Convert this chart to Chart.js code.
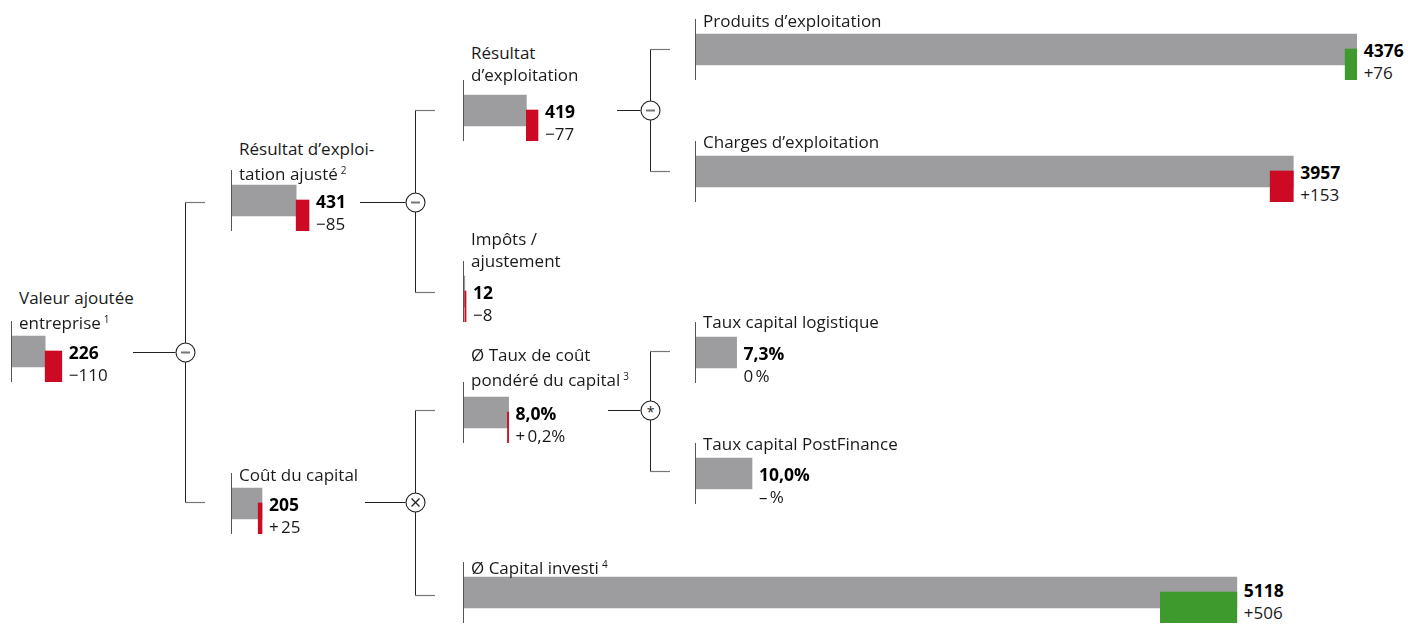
<!DOCTYPE html>
<html lang="fr">
<head>
<meta charset="utf-8">
<script src="https://cdn.jsdelivr.net/npm/chart.js@4.4.1/dist/chart.umd.min.js"></script>
<style>
  html, body { margin: 0; padding: 0; background: #ffffff; }
  #wrap { position: relative; width: 1408px; height: 625px; overflow: hidden; font-family: "Open Sans", "Noto Sans", sans-serif; color: #1a1a1a; }
  #wrap svg { position: absolute; left: 0; top: 0; }
  .node { position: absolute; }
  .txt { position: absolute; white-space: nowrap; }
  .lbl { font-size: 17px; line-height: 17px; }
  .val { font-size: 17.5px; line-height: 17.5px; font-weight: 700; color: #000; }
  .chg { font-size: 17px; line-height: 17px; }
  sup { font-size: 10px; vertical-align: 6px; margin-left: 3px; }
</style>
</head>
<body>
<div id="wrap"><svg id="lines" width="1408" height="625"></svg></div>
<script>
// ---------------- data ----------------
const categories = [
  "Valeur ajoutée entreprise", "Résultat d’exploitation ajusté", "Résultat d’exploitation",
  "Produits d’exploitation", "Charges d’exploitation", "Impôts / ajustement", "Coût du capital",
  "Ø Taux de coût pondéré du capital", "Taux capital logistique", "Taux capital PostFinance",
  "Ø Capital investi"
];
const labelLines = [
  ["Valeur ajoutée", "entreprise"], ["Résultat d’exploi-", "tation ajusté"], ["Résultat", "d’exploitation"],
  ["Produits d’exploitation"], ["Charges d’exploitation"], ["Impôts /", "ajustement"], ["Coût du capital"],
  ["Ø Taux de coût", "pondéré du capital"], ["Taux capital logistique"], ["Taux capital PostFinance"],
  ["Ø Capital investi"]
];
const footnotes = ["1", "2", "", "", "", "", "", "3", "", "", "4"];
const values  = [226, 431, 419, 4376, 3957, 12, 205, 8.0, 7.3, 10.0, 5118];
const changes = [-110, -85, -77, 76, 153, -8, 25, 0.2, 0, null, 506];
const units   = ["chf", "chf", "chf", "chf", "chf", "chf", "chf", "pct", "pct", "pct", "chf"];
const valueTexts  = ["226", "431", "419", "4376", "3957", "12", "205", "8,0%", "7,3%", "10,0%", "5118"];
const changeTexts = ["−110", "−85", "−77", "+76", "+153", "−8", "+\u202F25", "+\u202F0,2%", "0\u202F%", "–\u202F%", "+506"];
const favourable  = [false, false, false, true, false, false, false, false, null, null, true];

// ---------------- layout & style ----------------
const PX_PER_UNIT = { chf: 0.1512, pct: 5.7 };
const GRAY = "#9d9d9f", RED = "#cc0a23", GREEN = "#3e9a2c", AXIS = "#555555";
const NODE_H = 61, BAR_T = 31, ROW_GAP = 15;
const layout = [
  { x: 11,  top: 321, labelBase: 326 },
  { x: 231, top: 170, labelBase: 177 },
  { x: 463, top: 80,  labelBase: 81 },
  { x: 695, top: 19,  labelBase: 27 },
  { x: 695, top: 141, labelBase: 148 },
  { x: 463, top: 261, labelBase: 267 },
  { x: 231, top: 473, labelBase: 481 },
  { x: 463, top: 382, labelBase: 383 },
  { x: 695, top: 322, labelBase: 328 },
  { x: 695, top: 443, labelBase: 450 },
  { x: 463, top: 562, labelBase: 571, txtDy: -3 }
];
const connectors = [
  { x1: 133, y: 352, cx: 185, op: "minus", ys: [202, 502] },
  { x1: 360, y: 202, cx: 415, op: "minus", ys: [110, 292] },
  { x1: 617, y: 110, cx: 650, op: "minus", ys: [49, 171] },
  { x1: 365, y: 502, cx: 415, op: "times", ys: [410, 595] },
  { x1: 608, y: 410, cx: 650, op: "star",  ys: [351, 471] }
];

const wrap = document.getElementById("wrap");
function addText(cls, text, left, baseline, size, sup) {
  const d = document.createElement("div");
  d.className = "txt " + cls;
  d.textContent = text;
  if (sup) { const s = document.createElement("sup"); s.textContent = sup; d.appendChild(s); }
  d.style.left = left + "px";
  d.style.top = (baseline - 0.888 * size) + "px";
  wrap.appendChild(d);
  return d;
}

const axisLine = {
  id: "axisLine",
  afterDatasetsDraw(chart) {
    const { ctx, chartArea } = chart;
    const x = Math.round(chart.scales.x.getPixelForValue(0)) + 0.5;
    ctx.save();
    ctx.strokeStyle = AXIS; ctx.lineWidth = 1;
    ctx.beginPath(); ctx.moveTo(x, chartArea.top); ctx.lineTo(x, chartArea.bottom); ctx.stroke();
    ctx.restore();
  }
};

categories.forEach((name, i) => {
  const L = layout[i];
  const ppu = PX_PER_UNIT[units[i]];
  const v = values[i];
  const c = changes[i];
  const prev = c === null ? v : v - c;
  const extent = Math.max(v, prev);
  const W = Math.ceil(extent * ppu) + 2;

  const box = document.createElement("div");
  box.className = "node";
  box.style.left = L.x + "px"; box.style.top = L.top + "px";
  box.style.width = W + "px"; box.style.height = NODE_H + "px";
  const cv = document.createElement("canvas");
  cv.width = W; cv.height = NODE_H;
  cv.style.width = W + "px"; cv.style.height = NODE_H + "px";
  box.appendChild(cv);
  wrap.appendChild(box);

  // y value 0 = grey bar row (centre at mid-height), y value 1 = change bar row, ROW_GAP px lower
  const half = NODE_H / 2 / ROW_GAP;
  const changeColor = favourable[i] === null ? "rgba(0,0,0,0)" : (favourable[i] ? GREEN : RED);
  const chart = new Chart(cv, {
    type: "bar",
    data: {
      datasets: [{
        data: [
          { x: [0, v], y: 0 },
          { x: [Math.min(v, prev), Math.max(v, prev)], y: 1 }
        ],
        backgroundColor: [GRAY, changeColor],
        borderWidth: 0,
        barThickness: BAR_T,
        grouped: false
      }]
    },
    options: {
      indexAxis: "y",
      responsive: false,
      animation: false,
      events: [],
      devicePixelRatio: 1,
      layout: { padding: 0 },
      plugins: { legend: { display: false }, tooltip: { enabled: false } },
      scales: {
        x: { type: "linear", display: false, min: 0, max: W / ppu },
        y: { type: "linear", display: false, offset: false, reverse: true,
             min: -half, max: half }
      }
    },
    plugins: [axisLine]
  });

  // labels
  const lines = labelLines[i];
  lines.forEach((t, k) => {
    const base = L.labelBase - (lines.length - 1 - k) * 22;
    const sup = (k === lines.length - 1 && footnotes[i]) ? footnotes[i] : null;
    addText("lbl", t, L.x + 8, base, 17, sup);
  });
  const tx = L.x + chart.scales.x.getPixelForValue(extent) + 7;
  const dy = L.txtDy || 0;
  addText("val", valueTexts[i], tx, L.top + 39 + dy, 17.5);
  addText("chg", changeTexts[i], tx, L.top + 60 + dy, 17);
});

// connectors
const svg = document.getElementById("lines");
const NS = "http://www.w3.org/2000/svg";
function el(tag, attrs) { const e = document.createElementNS(NS, tag); for (const k in attrs) e.setAttribute(k, attrs[k]); svg.appendChild(e); return e; }
const R = 9.5;
connectors.forEach(cn => {
  el("line", { x1: cn.x1, y1: cn.y + 0.5, x2: cn.cx - R, y2: cn.y + 0.5, stroke: "#222", "stroke-width": 1 });
  el("line", { x1: cn.cx + 0.5, y1: cn.ys[0], x2: cn.cx + 0.5, y2: cn.ys[1], stroke: "#222", "stroke-width": 1 });
  cn.ys.forEach(yy => el("line", { x1: cn.cx, y1: yy + 0.5, x2: cn.cx + 20, y2: yy + 0.5, stroke: "#777", "stroke-width": 1.2 }));
  el("circle", { cx: cn.cx + 0.5, cy: cn.y + 0.5, r: R, fill: "#fff", stroke: "#222", "stroke-width": 1.1 });
  const cx = cn.cx + 0.5, cy = cn.y + 0.5;
  if (cn.op === "minus") {
    el("line", { x1: cx - 4.5, y1: cy, x2: cx + 4.5, y2: cy, stroke: "#777", "stroke-width": 2 });
  } else if (cn.op === "times") {
    el("line", { x1: cx - 4, y1: cy - 4, x2: cx + 4, y2: cy + 4, stroke: "#222", "stroke-width": 1.3 });
    el("line", { x1: cx - 4, y1: cy + 4, x2: cx + 4, y2: cy - 4, stroke: "#222", "stroke-width": 1.3 });
  } else {
    const t = el("text", { x: cx, y: cy + 6, "text-anchor": "middle", "font-size": 14, "font-family": "Open Sans, sans-serif", fill: "#222" });
    t.textContent = "*";
  }
});
</script>
</body>
</html>
